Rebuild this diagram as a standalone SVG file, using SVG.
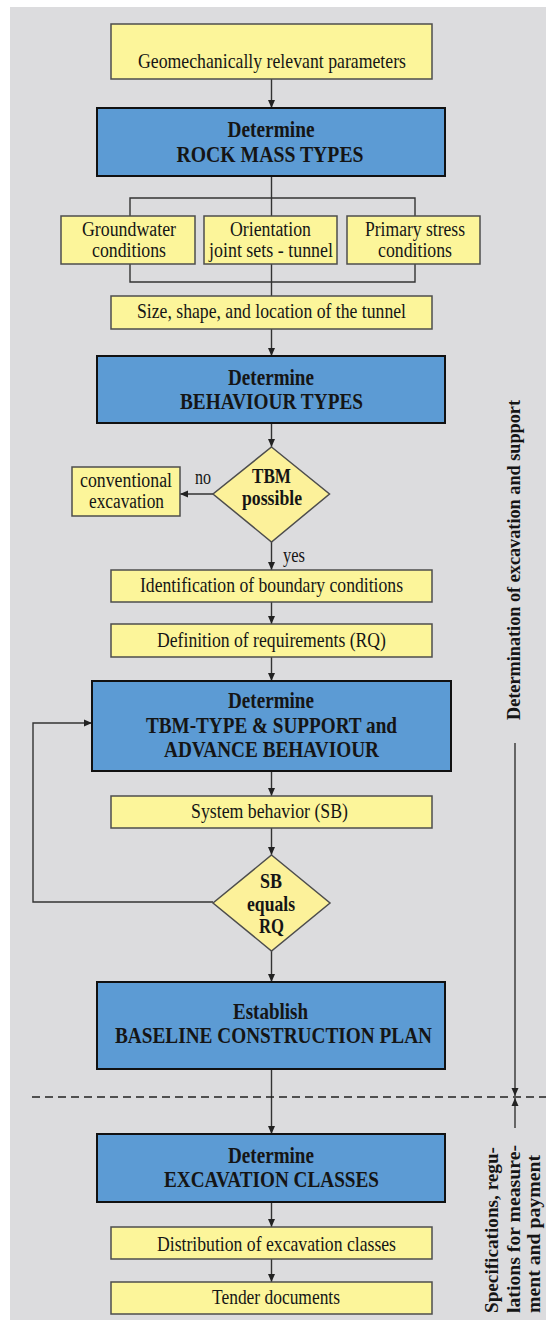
<svg xmlns="http://www.w3.org/2000/svg" width="546" height="1323" viewBox="0 0 546 1323">
<style>
.bg{fill:#dcdcde}
.y{fill:#fcf59a;stroke:#4d4d4d;stroke-width:1.5}
.b{fill:#5c9bd4;stroke:#111;stroke-width:2}
.d{fill:#fcf19a;stroke:#4d4d4d;stroke-width:1.5}
.t{font-family:"Liberation Serif",serif;font-size:21px;fill:#151515;text-anchor:middle}
.t2{font-size:20px}
.tb{font-family:"Liberation Serif",serif;font-size:23px;font-weight:bold;fill:#151515;text-anchor:middle}
.td{font-family:"Liberation Serif",serif;font-size:21px;font-weight:bold;fill:#151515;text-anchor:middle}
.tv{font-family:"Liberation Serif",serif;font-size:18px;font-weight:bold;fill:#151515}
.c{fill:none;stroke:#333;stroke-width:1.4}
.a{fill:none;stroke:#333;stroke-width:1.4;marker-end:url(#ah)}
</style>
<defs>
<marker id="ah" markerUnits="userSpaceOnUse" markerWidth="8" markerHeight="8" refX="8" refY="4" orient="auto">
<path d="M0,0.5 L8,4 L0,7.5 z" fill="#222"/>
</marker>
</defs>
<rect class="bg" x="10" y="7" width="536" height="1313"/>

<g id="connectors">
<line class="a" x1="271.5" y1="79" x2="271.5" y2="108"/>
<line class="c" x1="271.5" y1="176" x2="271.5" y2="216"/>
<polyline class="c" points="130,216 130,198 415,198 415,216"/>
<polyline class="c" points="130,264 130,282 415,282 415,264"/>
<line class="c" x1="271.5" y1="264" x2="271.5" y2="296"/>
<line class="a" x1="271.5" y1="329" x2="271.5" y2="356"/>
<line class="a" x1="271.5" y1="423" x2="271.5" y2="447"/>
<line class="a" x1="213" y1="494" x2="180" y2="494"/>
<line class="a" x1="271.5" y1="542" x2="271.5" y2="570"/>
<line class="a" x1="271.5" y1="602" x2="271.5" y2="624"/>
<line class="a" x1="271.5" y1="657" x2="271.5" y2="681"/>
<line class="a" x1="271.5" y1="771" x2="271.5" y2="796"/>
<line class="a" x1="271.5" y1="828" x2="271.5" y2="855"/>
<polyline class="a" points="213,902 33,902 33,723 92,723"/>
<line class="a" x1="271.5" y1="951" x2="271.5" y2="982"/>
<line class="a" x1="271.5" y1="1069" x2="271.5" y2="1134"/>
<line class="a" x1="271.5" y1="1202" x2="271.5" y2="1227"/>
<line class="a" x1="271.5" y1="1259" x2="271.5" y2="1282"/>
<line x1="32" y1="1097" x2="546" y2="1097" stroke="#222" stroke-width="1.6" stroke-dasharray="8,5"/>
<line class="a" x1="515" y1="743" x2="515" y2="1096"/>
<line class="a" x1="515" y1="1128" x2="515" y2="1098"/>
<text class="t" x="203" y="484" font-size="20" textLength="16" lengthAdjust="spacingAndGlyphs">no</text>
<text class="t" x="294" y="562" font-size="20" textLength="22" lengthAdjust="spacingAndGlyphs">yes</text>
</g>

<g id="n1">
<rect class="y" x="111" y="24" width="321" height="55"/>
<text class="t" x="272" y="68" textLength="268" lengthAdjust="spacingAndGlyphs">Geomechanically relevant parameters</text>
</g>
<g id="n2">
<rect class="b" x="97" y="108" width="348" height="68"/>
<text class="tb" x="271" y="137" textLength="87" lengthAdjust="spacingAndGlyphs">Determine</text>
<text class="tb" x="270" y="162" textLength="187" lengthAdjust="spacingAndGlyphs">ROCK MASS TYPES</text>
</g>
<g id="n3">
<rect class="y" x="61" y="216" width="134" height="48"/>
<text class="t t2" x="129" y="236" textLength="94" lengthAdjust="spacingAndGlyphs">Groundwater</text>
<text class="t t2" x="129" y="257" textLength="74" lengthAdjust="spacingAndGlyphs">conditions</text>
</g>
<g id="n4">
<rect class="y" x="204" y="216" width="133" height="48"/>
<text class="t t2" x="270.5" y="236" textLength="81" lengthAdjust="spacingAndGlyphs">Orientation</text>
<text class="t t2" x="271" y="257" textLength="124" lengthAdjust="spacingAndGlyphs">joint sets - tunnel</text>
</g>
<g id="n5">
<rect class="y" x="347" y="216" width="133" height="48"/>
<text class="t t2" x="415" y="236" textLength="100" lengthAdjust="spacingAndGlyphs">Primary stress</text>
<text class="t t2" x="415" y="257" textLength="74" lengthAdjust="spacingAndGlyphs">conditions</text>
</g>
<g id="n6">
<rect class="y" x="111" y="296" width="321" height="33"/>
<text class="t" x="271.5" y="318" textLength="269" lengthAdjust="spacingAndGlyphs">Size, shape, and location of the tunnel</text>
</g>
<g id="n7">
<rect class="b" x="97" y="356" width="348" height="67"/>
<text class="tb" x="271" y="385" textLength="86" lengthAdjust="spacingAndGlyphs">Determine</text>
<text class="tb" x="271.5" y="409" textLength="183" lengthAdjust="spacingAndGlyphs">BEHAVIOUR TYPES</text>
</g>
<g id="n8">
<polygon class="d" points="271.5,447 329.5,494 271.5,542 213,494"/>
<text class="td" x="271.5" y="483" textLength="39" lengthAdjust="spacingAndGlyphs">TBM</text>
<text class="td" x="272" y="505" textLength="60" lengthAdjust="spacingAndGlyphs">possible</text>
</g>
<g id="n9">
<rect class="y" x="72" y="467" width="108" height="49"/>
<text class="t t2" x="126" y="487" textLength="92" lengthAdjust="spacingAndGlyphs">conventional</text>
<text class="t t2" x="126.5" y="508" textLength="75" lengthAdjust="spacingAndGlyphs">excavation</text>
</g>
<g id="n10">
<rect class="y" x="111" y="570" width="321" height="32"/>
<text class="t" x="271.5" y="592" textLength="263" lengthAdjust="spacingAndGlyphs">Identification of boundary conditions</text>
</g>
<g id="n11">
<rect class="y" x="111" y="624" width="321" height="33"/>
<text class="t" x="271.5" y="647" textLength="229" lengthAdjust="spacingAndGlyphs">Definition of requirements (RQ)</text>
</g>
<g id="n12">
<rect class="b" x="92" y="681" width="359" height="90"/>
<text class="tb" x="271" y="708" textLength="86" lengthAdjust="spacingAndGlyphs">Determine</text>
<text class="tb" x="271.5" y="733" textLength="251" lengthAdjust="spacingAndGlyphs">TBM-TYPE &amp; SUPPORT and</text>
<text class="tb" x="271.5" y="757" textLength="215" lengthAdjust="spacingAndGlyphs">ADVANCE BEHAVIOUR</text>
</g>
<g id="n13">
<rect class="y" x="111" y="796" width="321" height="32"/>
<text class="t" x="269.5" y="818" textLength="157" lengthAdjust="spacingAndGlyphs">System behavior (SB)</text>
</g>
<g id="n14">
<polygon class="d" points="271.5,855 330,903 271.5,951 213,903"/>
<text class="td" x="271" y="888" font-size="20" textLength="22" lengthAdjust="spacingAndGlyphs">SB</text>
<text class="td" x="271" y="911" font-size="20" textLength="48" lengthAdjust="spacingAndGlyphs">equals</text>
<text class="td" x="271.5" y="933" font-size="20" textLength="25" lengthAdjust="spacingAndGlyphs">RQ</text>
</g>
<g id="n15">
<rect class="b" x="97" y="982" width="348" height="87"/>
<text class="tb" x="270.5" y="1019" textLength="75" lengthAdjust="spacingAndGlyphs">Establish</text>
<text class="tb" x="273.5" y="1043" textLength="317" lengthAdjust="spacingAndGlyphs">BASELINE CONSTRUCTION PLAN</text>
</g>
<g id="n16">
<rect class="b" x="97" y="1134" width="348" height="68"/>
<text class="tb" x="271" y="1163" textLength="86" lengthAdjust="spacingAndGlyphs">Determine</text>
<text class="tb" x="271.5" y="1187" textLength="215" lengthAdjust="spacingAndGlyphs">EXCAVATION CLASSES</text>
</g>
<g id="n17">
<rect class="y" x="111" y="1227" width="321" height="32"/>
<text class="t" x="276.5" y="1251" textLength="239" lengthAdjust="spacingAndGlyphs">Distribution of excavation classes</text>
</g>
<g id="n18">
<rect class="y" x="111" y="1282" width="321" height="32"/>
<text class="t" x="276" y="1304" textLength="128" lengthAdjust="spacingAndGlyphs">Tender documents</text>
</g>

<g id="side-labels">
<text class="tv" transform="translate(520,720) rotate(-90)" textLength="320" lengthAdjust="spacingAndGlyphs">Determination of excavation and support</text>
<text class="tv" transform="translate(498,1313) rotate(-90)" textLength="166" lengthAdjust="spacingAndGlyphs">Specifications, regu-</text>
<text class="tv" transform="translate(520,1313) rotate(-90)" textLength="168" lengthAdjust="spacingAndGlyphs">lations for measure-</text>
<text class="tv" transform="translate(540,1313) rotate(-90)" textLength="158" lengthAdjust="spacingAndGlyphs">ment and payment</text>
</g>
</svg>
